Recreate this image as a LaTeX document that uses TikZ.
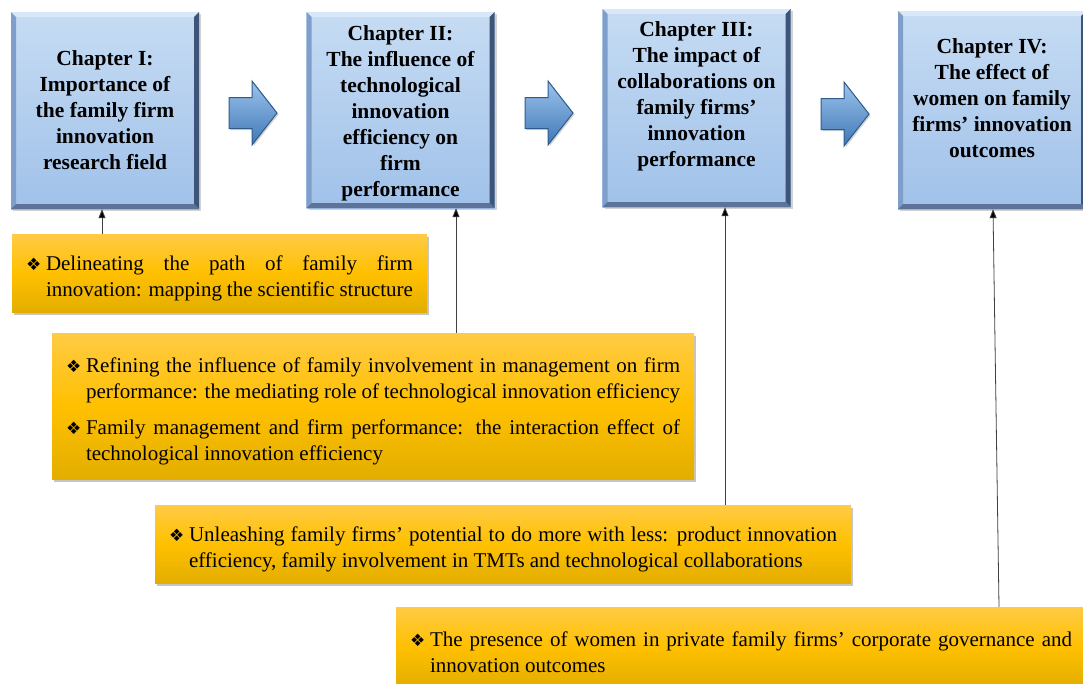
\documentclass[tikz,border=0pt]{standalone}
\usepackage{fontspec}
\setmainfont{Liberation Serif}
\newfontfamily\bulletfont{DejaVu Sans}
\usetikzlibrary{shadows,arrows.meta}

\definecolor{chtop}{HTML}{C6DCF3}
\definecolor{chbot}{HTML}{A0C1E9}
\definecolor{chlight}{HTML}{D9E8F8}
\definecolor{chleft}{HTML}{7F9FCA}
\definecolor{chright}{HTML}{3E5478}
\definecolor{chlow}{HTML}{5D7399}
\definecolor{ytop}{HTML}{FFCB45}
\definecolor{ymid}{HTML}{FFC000}
\definecolor{ybot}{HTML}{E3AE00}
\definecolor{artop}{HTML}{9CC3EC}
\definecolor{arbot}{HTML}{3F78B6}
\definecolor{aredge}{HTML}{2D5B8E}

\newcommand{\bitem}[1]{\par\noindent\makebox[20pt][l]{\bulletfont\fontsize{17}{17}\selectfont ❖}%
  \parbox[t]{\dimexpr\hsize-20pt\relax}{#1}}

\tikzset{
  barrow/.pic={
    \path[draw=aredge, line width=1pt, top color=artop, bottom color=arbot,
          drop shadow={shadow xshift=1.5pt, shadow yshift=-1.5pt, opacity=.35}]
      (-23,-15.5) -- (0,-15.5) -- (0,-32) -- (25,0) -- (0,32) -- (0,15.5) -- (-23,15.5) -- cycle;
  }
}

\begin{document}
\begin{tikzpicture}[x=1pt, y=-1pt,
  chapbox/.style={top color=chtop, bottom color=chbot,
                  drop shadow={shadow xshift=2pt, shadow yshift=-2pt, opacity=.35},
                  minimum width=188pt, inner sep=0pt,
                  path picture={
                    \coordinate (nw) at (path picture bounding box.north west);
                    \coordinate (ne) at (path picture bounding box.north east);
                    \coordinate (sw) at (path picture bounding box.south west);
                    \coordinate (se) at (path picture bounding box.south east);
                    \fill[chlight] (nw) -- (ne) -- ([xshift=-5pt,yshift=-5pt]ne) -- ([xshift=5pt,yshift=-5pt]nw) -- cycle;
                    \fill[chleft] (nw) -- ([xshift=5pt,yshift=-5pt]nw) -- ([xshift=5pt,yshift=5pt]sw) -- (sw) -- cycle;
                    \fill[chright] (ne) -- (se) -- ([xshift=-5pt,yshift=5pt]se) -- ([xshift=-5pt,yshift=-5pt]ne) -- cycle;
                    \fill[chlow] (sw) -- (se) -- ([xshift=-5pt,yshift=5pt]se) -- ([xshift=5pt,yshift=5pt]sw) -- cycle;
                  }},
  chaptext/.style={font=\fontsize{21.5}{26}\selectfont\bfseries, align=center, inner sep=0pt},
  ybox/.style={top color=ytop, bottom color=ybot, middle color=ymid,
               drop shadow={shadow xshift=2pt, shadow yshift=-3pt, opacity=.45},
               inner xsep=14pt, inner ysep=0pt, align=justify,
               font=\fontsize{21}{26}\selectfont},
  conn/.style={draw=black!75, line width=0.8pt, -{Triangle[width=7pt,length=9pt,fill=black]}}]
\useasboundingbox[fill=white] (0,0) rectangle (1083,683);

% chapters
\node[chapbox, minimum height=197pt] (ch1) at (105,110.5) {};
\node[chaptext] (t1) at (105,110) {Chapter I:\\Importance of\\the family firm\\innovation\\research field};

\node[chapbox, minimum height=196pt] (ch2) at (400.5,110) {};
\node[chaptext] (t2) at (400.5,113) {Chapter II:\\The influence of\\technological\\innovation\\efficiency on\\firm\\performance};

\node[chapbox, minimum height=198pt] (ch3) at (696.5,108) {};
\node[chaptext] (t3) at (696.5,96) {Chapter III:\\The impact of\\collaborations on\\family firms’\\innovation\\performance};

\node[chapbox, minimum height=198pt] (ch4) at (992,110) {};
\node[chaptext] (t4) at (992,98) {Chapter IV:\\The effect of\\women on family\\firms’ innovation\\outcomes};

% block arrows
\pic (ar1) at (252,113) {barrow};
\pic (ar2) at (548,113) {barrow};
\pic (ar3) at (844,114) {barrow};

% papers
\node[ybox, text width=387pt, minimum height=78pt] (y1) at (219.5,273)
  {\bitem{Delineating the path of family firm\linebreak innovation: mapping the scientific structure}};

\node[ybox, text width=614pt, minimum height=146pt] (y2) at (373,406)
  {\bitem{Refining the influence of family involvement in management on firm\linebreak performance: the mediating role of technological innovation efficiency}
   \par\vspace{16pt}
   \bitem{Family management and firm performance: the interaction effect of\linebreak technological innovation efficiency}};

\node[ybox, text width=668pt, minimum height=78pt] (y3) at (503,544)
  {\bitem{Unleashing family firms’ potential to do more with less: product innovation\linebreak efficiency, family involvement in TMTs and technological collaborations}};

\node[ybox, text width=662pt, minimum height=80pt] (y4) at (741,647)
  {\bitem{The presence of women in private family firms’ corporate governance and\linebreak innovation outcomes}};

% links
\coordinate (c1) at (102,0);
\coordinate (c2) at (456,0);
\coordinate (c3) at (725,0);
\coordinate (c4a) at (999,0);
\coordinate (c4b) at (993,0);
\draw[conn] (y1.north -| c1) -- (c1 |- ch1.south);
\draw[conn] (y2.north -| c2) -- (c2 |- ch2.south);
\draw[conn] (y3.north -| c3) -- (c3 |- ch3.south);
\draw[conn] (y4.north -| c4a) -- (c4b |- ch4.south);
\end{tikzpicture}
\end{document}
